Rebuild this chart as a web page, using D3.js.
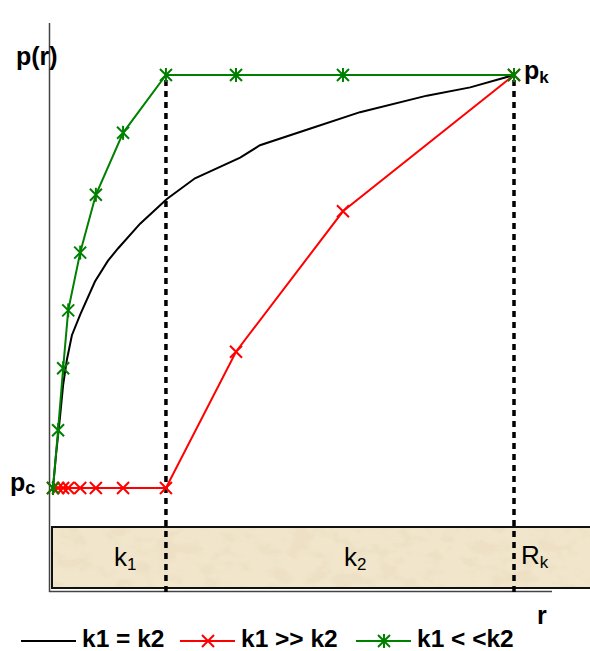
<!DOCTYPE html>
<html>
<head>
<meta charset="utf-8">
<script src="https://cdn.jsdelivr.net/npm/d3@7"></script>
<style>
  body { margin: 0; background: #fff; }
  text { font-family: Arial, "Liberation Sans", sans-serif; }
</style>
</head>
<body>
<div id="chart"></div>
<script>
// r in % of Rk (0 = well radius rc, 100 = Rk), p normalised from pc (0) to pk (1)
const rStep = [0, 1.1, 2.2, 3.3, 5.9, 9.3, 15.2, 24.5, 39.7, 62.9, 100];
const pSteep = [0, 0.14, 0.29, 0.43, 0.57, 0.71, 0.86, 1, 1, 1, 1];      // k1 << k2
const pFlat  = [0, 0, 0, 0, 0, 0, 0, 0, 0.33, 0.67, 1];                 // k1 >> k2
const rEqual = [0, 0.65, 1.5, 2.2, 3.0, 4.1, 5.9, 9.1, 11.9, 14.1, 18.9, 24.7, 30.8, 40.6, 44.9, 55.7, 66.6, 81.1, 90.5, 100];
const pEqual = [0, 0.08, 0.17, 0.25, 0.31, 0.37, 0.42, 0.50, 0.55, 0.58, 0.64, 0.70, 0.75, 0.80, 0.83, 0.87, 0.91, 0.95, 0.97, 1];
const r1 = 24.5;   // boundary between zone k1 and zone k2
const legendLabels = ["k1 = k2", "k1 >> k2", "k1 < <k2"];

const W = 590, H = 651;
const svg = d3.select("#chart").append("svg")
    .attr("width", W)
    .attr("height", H);

const x = d3.scaleLinear().domain([0, 100]).range([53, 514]);
const y = d3.scaleLinear().domain([0, 1]).range([488, 75]);

// sandstone texture for the reservoir strip
const defs = svg.append("defs");
const f = defs.append("filter").attr("id", "sand")
    .attr("x", 0).attr("y", 0).attr("width", 1).attr("height", 1);
f.append("feTurbulence")
    .attr("type", "fractalNoise")
    .attr("baseFrequency", "0.045 0.07")
    .attr("numOctaves", 4)
    .attr("seed", 3)
    .attr("result", "n");
f.append("feColorMatrix")
    .attr("in", "n")
    .attr("type", "matrix")
    .attr("values", "0 0 0 0 0.85  0 0 0 0 0.75  0 0 0 0 0.56  5 0 0 0 -2.3")
    .attr("result", "c");
f.append("feComposite").attr("in", "c").attr("in2", "SourceGraphic").attr("operator", "in");

const boxTop = 527, boxBot = 588;
svg.append("rect")
    .attr("x", 52).attr("y", boxTop)
    .attr("width", 560).attr("height", boxBot - boxTop)
    .attr("fill", "#f1e6cc");
svg.append("rect")
    .attr("x", 52).attr("y", boxTop)
    .attr("width", 560).attr("height", boxBot - boxTop)
    .attr("fill", "#fff")
    .attr("filter", "url(#sand)");
svg.append("rect")
    .attr("x", 52).attr("y", boxTop)
    .attr("width", 560).attr("height", boxBot - boxTop)
    .attr("fill", "none")
    .attr("stroke", "#111")
    .attr("stroke-width", 2);

// axes (no ticks)
svg.append("line")
    .attr("x1", 49.5).attr("x2", 49.5).attr("y1", 23).attr("y2", 592)
    .attr("stroke", "#444").attr("stroke-width", 1.5);
svg.append("line")
    .attr("x1", 49).attr("x2", 552).attr("y1", 591.5).attr("y2", 591.5)
    .attr("stroke", "#444").attr("stroke-width", 1.5);

// dotted guides at r1 and Rk
[r1, 100].forEach(r => {
    svg.append("line")
        .attr("x1", x(r)).attr("x2", x(r))
        .attr("y1", y(1) + 5).attr("y2", 592)
        .attr("stroke", "#000")
        .attr("stroke-width", 3.5)
        .attr("stroke-dasharray", "6,5");
});

const line = d3.line().x(d => x(d[0])).y(d => y(d[1]));

const eqData = rEqual.map((r, i) => [r, pEqual[i]]);
const flatData = rStep.map((r, i) => [r, pFlat[i]]);
const steepData = rStep.map((r, i) => [r, pSteep[i]]);

function cross(g, cx, cy, s, col) {
    g.append("path")
        .attr("d", `M${cx - s},${cy - s}L${cx + s},${cy + s}M${cx - s},${cy + s}L${cx + s},${cy - s}`)
        .attr("stroke", col).attr("stroke-width", 2).attr("fill", "none");
}
function star(g, cx, cy, s, col) {
    cross(g, cx, cy, s, col);
    g.append("path")
        .attr("d", `M${cx},${cy - s - 1}L${cx},${cy + s + 1}`)
        .attr("stroke", col).attr("stroke-width", 2);
}

svg.append("path").datum(eqData)
    .attr("d", line).attr("fill", "none")
    .attr("stroke", "#000").attr("stroke-width", 2);

svg.append("path").datum(flatData)
    .attr("d", line).attr("fill", "none")
    .attr("stroke", "#ff0000").attr("stroke-width", 2);
const gRed = svg.append("g");
flatData.forEach(d => cross(gRed, x(d[0]), y(d[1]), 6, "#ff0000"));

svg.append("path").datum(steepData)
    .attr("d", line).attr("fill", "none")
    .attr("stroke", "#008000").attr("stroke-width", 2);
const gGreen = svg.append("g");
steepData.forEach(d => star(gGreen, x(d[0]), y(d[1]), 6, "#008000"));

// labels
svg.append("text").attr("x", 16).attr("y", 65)
    .attr("font-size", 25).attr("font-weight", "bold").text("p(r)");

const pc = svg.append("text").attr("x", 10).attr("y", 491)
    .attr("font-size", 25).attr("font-weight", "bold");
pc.append("tspan").text("p");
pc.append("tspan").attr("font-size", 18).attr("dy", 3).text("c");

const pk = svg.append("text").attr("x", 524).attr("y", 79)
    .attr("font-size", 25).attr("font-weight", "bold");
pk.append("tspan").text("p");
pk.append("tspan").attr("font-size", 17).attr("dy", 4).text("k");

function sub(xp, yp, main, s) {
    const t = svg.append("text").attr("x", xp).attr("y", yp).attr("font-size", 26);
    t.append("tspan").text(main);
    t.append("tspan").attr("font-size", 17).attr("dy", 4).text(s);
}
sub(114, 566, "k", "1");
sub(344, 566, "k", "2");
sub(521, 564, "R", "k");

svg.append("text").attr("x", 537).attr("y", 624)
    .attr("font-size", 25).attr("font-weight", "bold").text("r");

// legend
const ly = 641;
const leg = svg.append("g");
const items = [
    { x0: 21, col: "#000", mark: null },
    { x0: 180, col: "#ff0000", mark: cross },
    { x0: 356, col: "#008000", mark: star }
];
items.forEach((it, i) => {
    leg.append("line")
        .attr("x1", it.x0).attr("x2", it.x0 + 55)
        .attr("y1", ly).attr("y2", ly)
        .attr("stroke", it.col).attr("stroke-width", 2);
    if (it.mark) it.mark(leg, it.x0 + 28, ly, 6, it.col);
    leg.append("text")
        .attr("x", it.x0 + 61).attr("y", ly + 6)
        .attr("font-size", 24.5).attr("font-weight", "bold")
        .text(legendLabels[i]);
});
</script>
</body>
</html>
